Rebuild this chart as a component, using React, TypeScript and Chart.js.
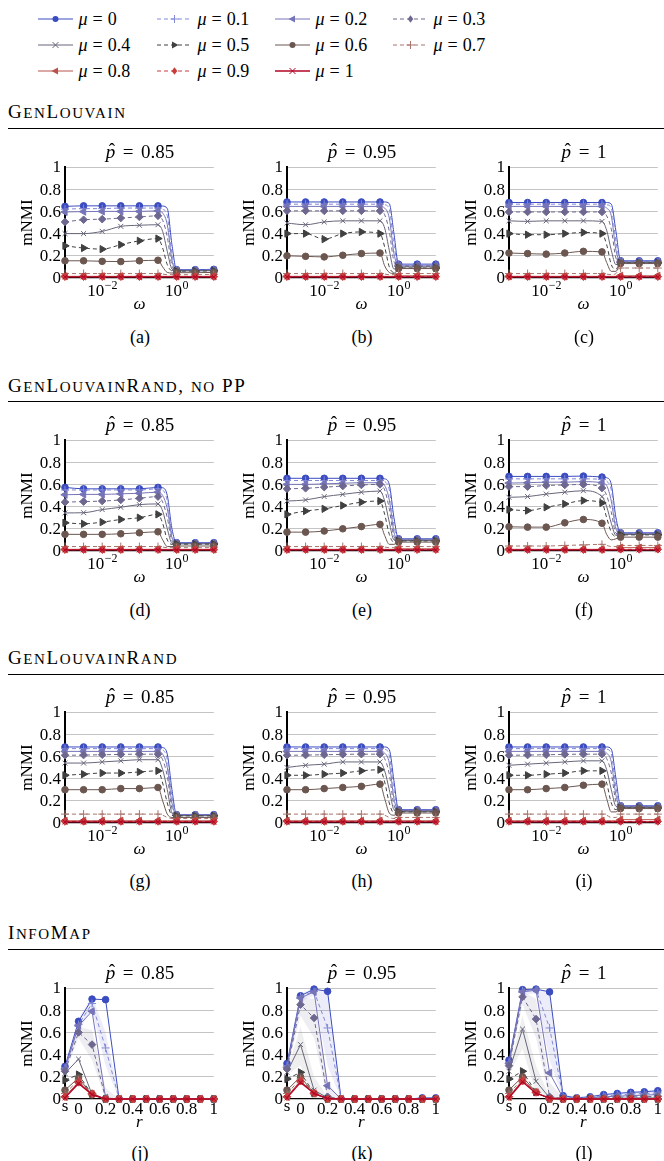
import React, { useEffect, useRef } from "react";
import { Chart, registerables } from "chart.js";

Chart.register(...registerables);

const FONT = "'Liberation Serif', 'DejaVu Serif', serif";
const TICK_PX = 17;
const SUP_PX = 12;

// ---- series styling (one entry per mixing parameter mu) ----
const MU_LABELS = ["0", "0.1", "0.2", "0.3", "0.4", "0.5", "0.6", "0.7", "0.8", "0.9", "1"];
const MU_COLORS = ["#3b4cc0", "#8288d8", "#7674b8", "#6e6890", "#66667a", "#404040", "#6b5650", "#a8746c", "#b8524a", "#c83c3c", "#b40426"];
const MU_DASHED = [false, true, false, true, false, true, false, true, false, true, false];
const MU_MARKERS = ["circle", "plus", "tl", "diamond", "x", "tr", "circle", "plus", "tl", "diamond", "x"];

// ---- x grids ----
const OMEGA = [0.001, 0.00316, 0.01, 0.0316, 0.1, 0.316, 0.422, 0.562, 0.75, 1, 3.16, 10];
const OMEGA_MARKED = [1, 1, 1, 1, 1, 1, 0, 0, 0, 1, 1, 1];
const OMEGA_TICKS = [0.01, 1];
const OMEGA_TICK_EXP = ["\u22122", "0"];
const R_VALUES = [-0.1, 0, 0.1, 0.2, 0.3, 0.4, 0.5, 0.6, 0.7, 0.8, 0.9, 1];
const R_MARKED = [1, 1, 1, 1, 1, 1, 1, 1, 1, 1, 1, 1];
const R_TICKS = [-0.1, 0, 0.2, 0.4, 0.6, 0.8, 1];
const R_TICK_LABELS = ["s", "0", "0.2", "0.4", "0.6", "0.8", "1"];
const Y_TICKS = [0, 0.2, 0.4, 0.6, 0.8, 1];
const Y_TICK_LABELS = ["0", "0.2", "0.4", "0.6", "0.8", "1"];

// ---- GenLouvain ----
const GL_P085 = [
  [0.645, 0.65, 0.65, 0.65, 0.65, 0.65, 0.648, 0.625, 0.3, 0.075, 0.075, 0.078],
  [0.62, 0.625, 0.625, 0.63, 0.63, 0.63, 0.62, 0.56, 0.22, 0.07, 0.07, 0.072],
  [0.595, 0.598, 0.6, 0.6, 0.6, 0.605, 0.585, 0.48, 0.16, 0.068, 0.068, 0.07],
  [0.505, 0.525, 0.53, 0.54, 0.55, 0.56, 0.52, 0.37, 0.11, 0.066, 0.066, 0.068],
  [0.4, 0.4, 0.42, 0.465, 0.475, 0.48, 0.42, 0.24, 0.08, 0.064, 0.064, 0.066],
  [0.29, 0.27, 0.26, 0.3, 0.335, 0.355, 0.27, 0.12, 0.065, 0.062, 0.062, 0.064],
  [0.155, 0.155, 0.15, 0.148, 0.155, 0.16, 0.1, 0.05, 0.045, 0.048, 0.048, 0.05],
  [0.04, 0.04, 0.04, 0.04, 0.04, 0.04, 0.035, 0.03, 0.03, 0.03, 0.03, 0.032],
  [0.015, 0.015, 0.015, 0.015, 0.015, 0.015, 0.015, 0.015, 0.015, 0.015, 0.015, 0.015],
  [0.012, 0.012, 0.012, 0.012, 0.012, 0.012, 0.012, 0.012, 0.012, 0.012, 0.012, 0.012],
  [0.01, 0.01, 0.01, 0.01, 0.01, 0.01, 0.01, 0.01, 0.01, 0.01, 0.01, 0.01],
];
const GL_P095 = [
  [0.685, 0.685, 0.685, 0.685, 0.685, 0.685, 0.685, 0.67, 0.4, 0.125, 0.125, 0.125],
  [0.665, 0.665, 0.665, 0.665, 0.665, 0.665, 0.66, 0.62, 0.3, 0.115, 0.115, 0.115],
  [0.645, 0.645, 0.645, 0.645, 0.645, 0.645, 0.63, 0.54, 0.22, 0.11, 0.11, 0.11],
  [0.605, 0.605, 0.605, 0.605, 0.605, 0.605, 0.57, 0.42, 0.15, 0.105, 0.105, 0.105],
  [0.495, 0.48, 0.505, 0.515, 0.515, 0.515, 0.45, 0.25, 0.08, 0.1, 0.1, 0.1],
  [0.4, 0.4, 0.35, 0.4, 0.415, 0.4, 0.28, 0.1, 0.05, 0.09, 0.09, 0.09],
  [0.2, 0.195, 0.19, 0.205, 0.22, 0.225, 0.11, 0.05, 0.04, 0.085, 0.085, 0.085],
  [0.04, 0.04, 0.04, 0.04, 0.04, 0.04, 0.035, 0.03, 0.03, 0.04, 0.04, 0.04],
  [0.015, 0.015, 0.015, 0.015, 0.015, 0.015, 0.015, 0.015, 0.015, 0.02, 0.02, 0.02],
  [0.012, 0.012, 0.012, 0.012, 0.012, 0.012, 0.012, 0.012, 0.012, 0.012, 0.012, 0.012],
  [0.01, 0.01, 0.01, 0.01, 0.01, 0.01, 0.01, 0.01, 0.01, 0.01, 0.01, 0.01],
];
const GL_P1 = [
  [0.68, 0.68, 0.68, 0.68, 0.68, 0.68, 0.68, 0.665, 0.42, 0.155, 0.155, 0.155],
  [0.665, 0.665, 0.665, 0.665, 0.665, 0.665, 0.66, 0.63, 0.33, 0.148, 0.148, 0.148],
  [0.645, 0.645, 0.645, 0.645, 0.645, 0.645, 0.63, 0.56, 0.25, 0.145, 0.145, 0.145],
  [0.595, 0.595, 0.595, 0.595, 0.595, 0.595, 0.56, 0.44, 0.18, 0.142, 0.142, 0.142],
  [0.515, 0.51, 0.515, 0.515, 0.515, 0.51, 0.43, 0.25, 0.12, 0.14, 0.14, 0.14],
  [0.4, 0.39, 0.39, 0.4, 0.41, 0.4, 0.3, 0.12, 0.08, 0.135, 0.135, 0.135],
  [0.225, 0.22, 0.215, 0.225, 0.24, 0.235, 0.14, 0.06, 0.06, 0.13, 0.13, 0.13],
  [0.04, 0.04, 0.04, 0.04, 0.04, 0.04, 0.035, 0.03, 0.04, 0.09, 0.09, 0.09],
  [0.015, 0.015, 0.015, 0.015, 0.015, 0.015, 0.015, 0.015, 0.015, 0.02, 0.02, 0.02],
  [0.012, 0.012, 0.012, 0.012, 0.012, 0.012, 0.012, 0.012, 0.012, 0.012, 0.012, 0.012],
  [0.01, 0.01, 0.01, 0.01, 0.01, 0.01, 0.01, 0.01, 0.01, 0.01, 0.01, 0.01],
];

// ---- GenLouvainRand without post-processing ----
const GLR_NOPP_P085 = [
  [0.573, 0.56, 0.56, 0.56, 0.56, 0.573, 0.57, 0.5, 0.2, 0.075, 0.075, 0.075],
  [0.55, 0.55, 0.55, 0.55, 0.55, 0.56, 0.55, 0.45, 0.15, 0.07, 0.07, 0.07],
  [0.507, 0.51, 0.51, 0.515, 0.52, 0.53, 0.5, 0.38, 0.12, 0.068, 0.068, 0.068],
  [0.44, 0.445, 0.45, 0.46, 0.475, 0.49, 0.44, 0.3, 0.09, 0.066, 0.066, 0.066],
  [0.343, 0.345, 0.373, 0.394, 0.418, 0.424, 0.36, 0.2, 0.07, 0.064, 0.064, 0.064],
  [0.254, 0.245, 0.26, 0.284, 0.3, 0.33, 0.25, 0.1, 0.06, 0.062, 0.062, 0.062],
  [0.15, 0.15, 0.15, 0.155, 0.164, 0.173, 0.1, 0.04, 0.04, 0.045, 0.045, 0.045],
  [0.04, 0.04, 0.04, 0.04, 0.04, 0.04, 0.035, 0.03, 0.03, 0.03, 0.03, 0.03],
  [0.015, 0.015, 0.015, 0.015, 0.015, 0.015, 0.015, 0.015, 0.015, 0.015, 0.015, 0.015],
  [0.012, 0.012, 0.012, 0.012, 0.012, 0.012, 0.012, 0.012, 0.012, 0.012, 0.012, 0.012],
  [0.01, 0.01, 0.01, 0.01, 0.01, 0.01, 0.01, 0.01, 0.01, 0.01, 0.01, 0.01],
];
const GLR_NOPP_P095 = [
  [0.655, 0.655, 0.655, 0.655, 0.655, 0.655, 0.65, 0.6, 0.3, 0.11, 0.11, 0.11],
  [0.635, 0.635, 0.635, 0.635, 0.635, 0.635, 0.625, 0.55, 0.23, 0.105, 0.105, 0.105],
  [0.6, 0.6, 0.605, 0.61, 0.615, 0.615, 0.59, 0.46, 0.17, 0.1, 0.1, 0.1],
  [0.56, 0.565, 0.575, 0.585, 0.595, 0.6, 0.55, 0.38, 0.13, 0.098, 0.098, 0.098],
  [0.45, 0.46, 0.49, 0.51, 0.53, 0.54, 0.45, 0.26, 0.1, 0.095, 0.095, 0.095],
  [0.33, 0.36, 0.38, 0.41, 0.44, 0.45, 0.33, 0.15, 0.08, 0.09, 0.09, 0.09],
  [0.17, 0.17, 0.18, 0.2, 0.22, 0.24, 0.14, 0.06, 0.06, 0.08, 0.08, 0.08],
  [0.04, 0.04, 0.04, 0.04, 0.04, 0.04, 0.035, 0.03, 0.03, 0.04, 0.04, 0.04],
  [0.015, 0.015, 0.015, 0.015, 0.015, 0.015, 0.015, 0.015, 0.015, 0.02, 0.02, 0.02],
  [0.012, 0.012, 0.012, 0.012, 0.012, 0.012, 0.012, 0.012, 0.012, 0.012, 0.012, 0.012],
  [0.01, 0.01, 0.01, 0.01, 0.01, 0.01, 0.01, 0.01, 0.01, 0.01, 0.01, 0.01],
];
const GLR_NOPP_P1 = [
  [0.672, 0.672, 0.672, 0.672, 0.675, 0.666, 0.66, 0.6, 0.3, 0.164, 0.164, 0.164],
  [0.65, 0.65, 0.65, 0.65, 0.65, 0.645, 0.63, 0.55, 0.25, 0.158, 0.158, 0.158],
  [0.612, 0.615, 0.62, 0.62, 0.625, 0.615, 0.59, 0.45, 0.2, 0.155, 0.155, 0.155],
  [0.58, 0.58, 0.59, 0.595, 0.6, 0.567, 0.5, 0.35, 0.16, 0.152, 0.152, 0.152],
  [0.484, 0.49, 0.513, 0.53, 0.543, 0.49, 0.4, 0.25, 0.14, 0.15, 0.15, 0.15],
  [0.373, 0.364, 0.394, 0.424, 0.454, 0.433, 0.3, 0.17, 0.13, 0.145, 0.145, 0.145],
  [0.218, 0.215, 0.215, 0.254, 0.284, 0.25, 0.15, 0.1, 0.11, 0.125, 0.125, 0.125],
  [0.045, 0.045, 0.045, 0.05, 0.055, 0.06, 0.05, 0.04, 0.04, 0.05, 0.05, 0.05],
  [0.015, 0.015, 0.015, 0.015, 0.015, 0.015, 0.015, 0.015, 0.015, 0.03, 0.03, 0.03],
  [0.012, 0.012, 0.012, 0.012, 0.012, 0.012, 0.012, 0.012, 0.012, 0.015, 0.015, 0.015],
  [0.01, 0.01, 0.01, 0.01, 0.01, 0.01, 0.01, 0.01, 0.01, 0.01, 0.01, 0.01],
];

// ---- GenLouvainRand ----
const GLR_P085 = [
  [0.685, 0.685, 0.685, 0.685, 0.685, 0.685, 0.68, 0.62, 0.3, 0.075, 0.075, 0.075],
  [0.67, 0.67, 0.67, 0.67, 0.67, 0.67, 0.66, 0.57, 0.24, 0.072, 0.072, 0.072],
  [0.645, 0.645, 0.645, 0.645, 0.645, 0.645, 0.62, 0.5, 0.18, 0.07, 0.07, 0.07],
  [0.61, 0.612, 0.615, 0.618, 0.62, 0.62, 0.57, 0.42, 0.13, 0.068, 0.068, 0.068],
  [0.54, 0.54, 0.55, 0.56, 0.57, 0.57, 0.48, 0.3, 0.09, 0.066, 0.066, 0.066],
  [0.43, 0.44, 0.45, 0.45, 0.46, 0.47, 0.36, 0.18, 0.07, 0.064, 0.064, 0.064],
  [0.3, 0.3, 0.3, 0.31, 0.31, 0.32, 0.2, 0.08, 0.05, 0.05, 0.05, 0.05],
  [0.08, 0.08, 0.08, 0.08, 0.08, 0.08, 0.07, 0.05, 0.04, 0.04, 0.04, 0.04],
  [0.02, 0.02, 0.02, 0.02, 0.02, 0.02, 0.02, 0.02, 0.02, 0.02, 0.02, 0.02],
  [0.014, 0.014, 0.014, 0.014, 0.014, 0.014, 0.014, 0.014, 0.014, 0.014, 0.014, 0.014],
  [0.01, 0.01, 0.01, 0.01, 0.01, 0.01, 0.01, 0.01, 0.01, 0.01, 0.01, 0.01],
];
const GLR_P095 = [
  [0.685, 0.685, 0.685, 0.685, 0.685, 0.685, 0.685, 0.66, 0.38, 0.12, 0.12, 0.12],
  [0.67, 0.67, 0.67, 0.67, 0.67, 0.67, 0.665, 0.61, 0.3, 0.115, 0.115, 0.115],
  [0.645, 0.645, 0.645, 0.645, 0.645, 0.645, 0.63, 0.54, 0.22, 0.112, 0.112, 0.112],
  [0.61, 0.612, 0.615, 0.618, 0.62, 0.62, 0.58, 0.44, 0.16, 0.11, 0.11, 0.11],
  [0.5, 0.52, 0.53, 0.55, 0.55, 0.55, 0.47, 0.3, 0.12, 0.105, 0.105, 0.105],
  [0.43, 0.43, 0.44, 0.45, 0.47, 0.48, 0.37, 0.18, 0.09, 0.1, 0.1, 0.1],
  [0.3, 0.3, 0.31, 0.32, 0.33, 0.35, 0.22, 0.09, 0.07, 0.09, 0.09, 0.09],
  [0.08, 0.08, 0.08, 0.08, 0.08, 0.08, 0.07, 0.05, 0.04, 0.05, 0.05, 0.05],
  [0.02, 0.02, 0.02, 0.02, 0.02, 0.02, 0.02, 0.02, 0.02, 0.02, 0.02, 0.02],
  [0.014, 0.014, 0.014, 0.014, 0.014, 0.014, 0.014, 0.014, 0.014, 0.014, 0.014, 0.014],
  [0.01, 0.01, 0.01, 0.01, 0.01, 0.01, 0.01, 0.01, 0.01, 0.01, 0.01, 0.01],
];
const GLR_P1 = [
  [0.685, 0.685, 0.685, 0.685, 0.685, 0.685, 0.685, 0.665, 0.4, 0.155, 0.155, 0.155],
  [0.67, 0.67, 0.67, 0.67, 0.67, 0.67, 0.665, 0.62, 0.32, 0.15, 0.15, 0.15],
  [0.645, 0.645, 0.645, 0.645, 0.645, 0.645, 0.63, 0.55, 0.25, 0.148, 0.148, 0.148],
  [0.61, 0.612, 0.615, 0.618, 0.62, 0.62, 0.58, 0.45, 0.19, 0.145, 0.145, 0.145],
  [0.52, 0.53, 0.54, 0.55, 0.56, 0.56, 0.48, 0.3, 0.15, 0.14, 0.14, 0.14],
  [0.43, 0.43, 0.44, 0.45, 0.47, 0.47, 0.36, 0.18, 0.12, 0.135, 0.135, 0.135],
  [0.3, 0.3, 0.31, 0.32, 0.34, 0.35, 0.22, 0.1, 0.1, 0.13, 0.13, 0.13],
  [0.08, 0.08, 0.08, 0.08, 0.08, 0.08, 0.07, 0.05, 0.05, 0.08, 0.08, 0.08],
  [0.02, 0.02, 0.02, 0.02, 0.02, 0.02, 0.02, 0.02, 0.02, 0.03, 0.03, 0.03],
  [0.014, 0.014, 0.014, 0.014, 0.014, 0.014, 0.014, 0.014, 0.014, 0.014, 0.014, 0.014],
  [0.01, 0.01, 0.01, 0.01, 0.01, 0.01, 0.01, 0.01, 0.01, 0.01, 0.01, 0.01],
];

// ---- InfoMap ----
const IM_P085 = [
  [0.294, 0.7, 0.9, 0.895, 0, 0, 0, 0, 0, 0, 0, 0],
  [0.28, 0.67, 0.86, 0.46, 0, 0, 0, 0, 0, 0, 0, 0],
  [0.27, 0.66, 0.79, 0.01, 0, 0, 0, 0, 0, 0, 0, 0],
  [0.25, 0.6, 0.49, 0.005, 0, 0, 0, 0, 0, 0, 0, 0],
  [0.23, 0.36, 0.04, 0, 0, 0, 0, 0, 0, 0, 0, 0],
  [0.17, 0.22, 0.04, 0, 0, 0, 0, 0, 0, 0, 0, 0],
  [0.08, 0.19, 0.04, 0, 0, 0, 0, 0, 0, 0, 0, 0],
  [0.05, 0.17, 0.04, 0, 0, 0, 0, 0, 0, 0, 0, 0],
  [0.02, 0.155, 0.045, 0, 0, 0, 0, 0, 0, 0, 0, 0],
  [0.02, 0.15, 0.05, 0, 0, 0, 0, 0, 0, 0, 0, 0],
  [0.01, 0.14, 0.04, 0, 0, 0, 0, 0, 0, 0, 0, 0],
];
const IM_P085_BAND_LO = [
  [0.27, 0.62, 0.8, 0.3, 0, 0, 0, 0, 0, 0, 0, 0],
  [0.23, 0.55, 0.35, 0, 0, 0, 0, 0, 0, 0, 0, 0],
];
const IM_P085_BAND_HI = [
  [0.29, 0.72, 0.93, 0.6, 0.02, 0, 0, 0, 0, 0, 0, 0],
  [0.27, 0.65, 0.62, 0.1, 0, 0, 0, 0, 0, 0, 0, 0],
];
const IM_P095 = [
  [0.32, 0.93, 0.99, 0.97, 0, 0, 0, 0, 0, 0, 0.01, 0.01],
  [0.3, 0.92, 0.97, 0.64, 0, 0, 0, 0, 0, 0, 0, 0],
  [0.285, 0.91, 0.965, 0.12, 0, 0, 0, 0, 0, 0, 0, 0],
  [0.27, 0.85, 0.73, 0.02, 0, 0, 0, 0, 0, 0, 0, 0],
  [0.24, 0.49, 0.08, 0.01, 0, 0, 0, 0, 0, 0, 0, 0],
  [0.18, 0.24, 0.05, 0, 0, 0, 0, 0, 0, 0, 0, 0],
  [0.08, 0.2, 0.05, 0, 0, 0, 0, 0, 0, 0, 0, 0],
  [0.05, 0.18, 0.05, 0, 0, 0, 0, 0, 0, 0, 0, 0],
  [0.02, 0.165, 0.05, 0, 0, 0, 0, 0, 0, 0, 0, 0],
  [0.02, 0.16, 0.055, 0, 0, 0, 0, 0, 0, 0, 0, 0],
  [0.01, 0.15, 0.05, 0.005, 0, 0, 0, 0, 0, 0, 0, 0],
];
const IM_P095_BAND_LO = [
  [0.28, 0.88, 0.93, 0.3, 0, 0, 0, 0, 0, 0, 0, 0],
  [0.25, 0.75, 0.55, 0, 0, 0, 0, 0, 0, 0, 0, 0],
  [0.22, 0.3, 0, 0, 0, 0, 0, 0, 0, 0, 0, 0],
];
const IM_P095_BAND_HI = [
  [0.32, 0.95, 1, 0.95, 0.02, 0, 0, 0, 0, 0, 0, 0],
  [0.29, 0.92, 0.9, 0.15, 0, 0, 0, 0, 0, 0, 0, 0],
  [0.26, 0.65, 0.2, 0.02, 0, 0, 0, 0, 0, 0, 0, 0],
];
const IM_P1 = [
  [0.35, 0.985, 0.99, 0.965, 0.03, 0.01, 0.02, 0.04, 0.05, 0.06, 0.065, 0.075],
  [0.33, 0.975, 0.985, 0.64, 0.02, 0.01, 0.015, 0.03, 0.035, 0.045, 0.05, 0.055],
  [0.32, 0.965, 0.98, 0.235, 0.01, 0.005, 0.01, 0.02, 0.025, 0.03, 0.035, 0.04],
  [0.3, 0.92, 0.72, 0.02, 0.005, 0, 0.005, 0.01, 0.015, 0.02, 0.02, 0.025],
  [0.25, 0.63, 0.16, 0.01, 0, 0, 0, 0.005, 0.005, 0.01, 0.01, 0.01],
  [0.18, 0.25, 0.06, 0, 0, 0, 0, 0, 0, 0, 0, 0],
  [0.08, 0.2, 0.06, 0, 0, 0, 0, 0, 0, 0, 0, 0],
  [0.05, 0.18, 0.06, 0, 0, 0, 0, 0, 0, 0, 0, 0],
  [0.02, 0.17, 0.06, 0, 0, 0, 0, 0, 0, 0, 0, 0],
  [0.02, 0.16, 0.06, 0, 0, 0, 0, 0, 0, 0, 0, 0],
  [0.01, 0.155, 0.05, 0.01, 0, 0, 0, 0, 0, 0, 0, 0],
];
const IM_P1_BAND_LO = [
  [0.31, 0.94, 0.95, 0.35, 0, 0, 0, 0.01, 0.02, 0.03, 0.03, 0.03],
  [0.28, 0.85, 0.55, 0, 0, 0, 0, 0, 0, 0, 0, 0],
  [0.23, 0.45, 0.05, 0, 0, 0, 0, 0, 0, 0, 0, 0],
];
const IM_P1_BAND_HI = [
  [0.35, 0.99, 1, 0.95, 0.04, 0.02, 0.03, 0.05, 0.06, 0.07, 0.075, 0.08],
  [0.32, 0.97, 0.9, 0.15, 0.01, 0, 0, 0, 0, 0, 0, 0],
  [0.27, 0.75, 0.3, 0.02, 0, 0, 0, 0, 0, 0, 0, 0],
];
const BAND_COLORS = ["rgba(120,128,210,0.14)", "rgba(120,116,150,0.13)", "rgba(120,120,130,0.12)"];

// ---- page layout ----
const COLS = [65, 287, 509];
const ROW_TOPS = [167, 440, 712, 988];
const AREA_W = 150;
const AREA_H = 111;
const PAD = { left: 52, top: 12, right: 4, bottom: 42 };
const CAPTION_Y = [337, 610, 881, 1153];
const HEADER_Y = [112, 386, 658, 933];
const RULE_Y = [128, 401, 674, 949];
const HEADERS = ["GenLouvain", "GenLouvainRand, no PP", "GenLouvainRand", "InfoMap"];
const P_HATS = ["0.85", "0.95", "1"];

const PANELS = [
  { kind: "omega", rows: GL_P085, caption: "(a)" },
  { kind: "omega", rows: GL_P095, caption: "(b)" },
  { kind: "omega", rows: GL_P1, caption: "(c)" },
  { kind: "omega", rows: GLR_NOPP_P085, caption: "(d)" },
  { kind: "omega", rows: GLR_NOPP_P095, caption: "(e)" },
  { kind: "omega", rows: GLR_NOPP_P1, caption: "(f)" },
  { kind: "omega", rows: GLR_P085, caption: "(g)" },
  { kind: "omega", rows: GLR_P095, caption: "(h)" },
  { kind: "omega", rows: GLR_P1, caption: "(i)" },
  { kind: "r", rows: IM_P085, lo: IM_P085_BAND_LO, hi: IM_P085_BAND_HI, caption: "(j)" },
  { kind: "r", rows: IM_P095, lo: IM_P095_BAND_LO, hi: IM_P095_BAND_HI, caption: "(k)" },
  { kind: "r", rows: IM_P1, lo: IM_P1_BAND_LO, hi: IM_P1_BAND_HI, caption: "(l)" },
];

function markerStyle(kind: string) {
  switch (kind) {
    case "circle": return { pointStyle: "circle", rotation: 0, radius: 3.3 };
    case "plus": return { pointStyle: "cross", rotation: 0, radius: 4 };
    case "tl": return { pointStyle: "triangle", rotation: -90, radius: 4.2 };
    case "tr": return { pointStyle: "triangle", rotation: 90, radius: 4.2 };
    case "diamond": return { pointStyle: "rectRot", rotation: 0, radius: 3.8 };
    default: return { pointStyle: "crossRot", rotation: 0, radius: 3.5 };
  }
}

function buildDatasets(p: any) {
  const xs = p.kind === "omega" ? OMEGA : R_VALUES;
  const marked = p.kind === "omega" ? OMEGA_MARKED : R_MARKED;
  const sets: any[] = p.rows.map((row: number[], i: number) => {
    const m = markerStyle(MU_MARKERS[i]);
    return {
      data: row.map((y, j) => ({ x: xs[j], y })),
      borderColor: MU_COLORS[i],
      backgroundColor: MU_COLORS[i],
      borderWidth: i === 10 ? 1.4 : 1,
      borderDash: MU_DASHED[i] ? [4, 3] : [],
      pointStyle: m.pointStyle,
      rotation: m.rotation,
      pointRotation: m.rotation,
      pointRadius: marked.map((k) => (k ? m.radius : 0)),
      pointBorderWidth: 1,
      pointBackgroundColor: MU_COLORS[i],
      pointBorderColor: MU_COLORS[i],
      cubicInterpolationMode: p.kind === "omega" ? "monotone" : "default",
      tension: 0,
      fill: false,
      clip: false,
      order: 20 - i,
    };
  });
  if (p.lo) {
    p.lo.forEach((lo: number[], b: number) => {
      const hi = p.hi[b];
      sets.push({
        data: lo.map((y, j) => ({ x: xs[j], y })),
        borderWidth: 0, pointRadius: 0, fill: false, order: 50, borderColor: "transparent",
      });
      sets.push({
        data: hi.map((y, j) => ({ x: xs[j], y })),
        borderWidth: 0, pointRadius: 0, fill: "-1", order: 50,
        borderColor: "transparent", backgroundColor: BAND_COLORS[b],
      });
    });
  }
  return sets;
}

function axisTextPlugin(kind: string) {
  return {
    id: "axisText",
    afterDraw(chart: any) {
      const { ctx, chartArea: a, scales } = chart;
      const sx = scales.x, sy = scales.y;
      ctx.save();
      ctx.fillStyle = "#000";
      ctx.font = `${TICK_PX}px ${FONT}`;
      ctx.textAlign = "right";
      ctx.textBaseline = "middle";
      Y_TICKS.forEach((v, i) => ctx.fillText(Y_TICK_LABELS[i], a.left - 4, sy.getPixelForValue(v) + 1));
      ctx.textBaseline = "alphabetic";
      if (kind === "omega") {
        OMEGA_TICKS.forEach((v, i) => {
          ctx.font = `${TICK_PX}px ${FONT}`;
          const bw = ctx.measureText("10").width;
          ctx.font = `${SUP_PX}px ${FONT}`;
          const ew = ctx.measureText(OMEGA_TICK_EXP[i]).width;
          const cx = sx.getPixelForValue(v);
          const left = cx - (bw + ew) / 2;
          ctx.textAlign = "left";
          ctx.font = `${TICK_PX}px ${FONT}`;
          ctx.fillText("10", left, a.bottom + 18);
          ctx.font = `${SUP_PX}px ${FONT}`;
          ctx.fillText(OMEGA_TICK_EXP[i], left + bw + 0.5, a.bottom + 11);
        });
      } else {
        ctx.textAlign = "center";
        ctx.font = `${TICK_PX}px ${FONT}`;
        R_TICKS.forEach((v, i) => {
          const lbl = R_TICK_LABELS[i];
          ctx.fillText(lbl, sx.getPixelForValue(v), a.bottom + (lbl === "s" ? 12 : 15));
        });
      }
      ctx.textAlign = "center";
      ctx.textBaseline = "middle";
      ctx.font = `italic ${TICK_PX}px ${FONT}`;
      ctx.fillText(kind === "omega" ? "\u03c9" : "r", (a.left + a.right) / 2, a.bottom + (kind === "omega" ? 27 : 24));
      ctx.translate(a.left - 37, (a.top + a.bottom) / 2);
      ctx.rotate(-Math.PI / 2);
      ctx.font = `${TICK_PX}px ${FONT}`;
      ctx.fillText("mNMI", 0, 0);
      ctx.restore();
    },
  };
}

function Panel({ p, left, top }: any) {
  const ref = useRef<HTMLCanvasElement>(null);
  const W = PAD.left + AREA_W + PAD.right;
  const H = PAD.top + AREA_H + PAD.bottom;
  useEffect(() => {
    const isOmega = p.kind === "omega";
    const chart = new Chart(ref.current as HTMLCanvasElement, {
      type: "line",
      data: { datasets: buildDatasets(p) },
      options: {
        animation: false,
        responsive: false,
        devicePixelRatio: 1,
        layout: { padding: PAD },
        plugins: { legend: { display: false }, tooltip: { enabled: false }, title: { display: false } },
        scales: {
          x: {
            type: isOmega ? "logarithmic" : "linear",
            min: isOmega ? 0.001 : -0.1,
            max: isOmega ? 10 : 1,
            ticks: { display: false },
            grid: { display: true, drawOnChartArea: false, drawTicks: false },
            border: { display: true, color: "#000", width: 1.2 },
            afterFit: (s: any) => { s.height = 0; },
          },
          y: {
            min: 0,
            max: 1,
            ticks: { display: false, stepSize: 0.2 },
            grid: {
              drawTicks: false,
              lineWidth: 1,
              color: (c: any) => (c.tick && c.tick.value === 0 ? "rgba(0,0,0,0)" : "#c4c4c4"),
            },
            border: { display: true, color: "#000", width: 2 },
            afterFit: (s: any) => { s.width = 0; },
          },
        },
      } as any,
      plugins: [axisTextPlugin(p.kind)],
    });
    return () => chart.destroy();
  }, []);
  return (
    <canvas
      ref={ref}
      width={W}
      height={H}
      style={{ position: "absolute", left: left - PAD.left, top: top - PAD.top, width: W, height: H }}
    />
  );
}

function LegendMarker({ kind, cx, cy, color }: any) {
  if (kind === "circle") return <circle cx={cx} cy={cy} r={3} fill={color} />;
  if (kind === "plus")
    return <path d={`M${cx - 4},${cy}H${cx + 4}M${cx},${cy - 4}V${cy + 4}`} stroke={color} strokeWidth={1} />;
  if (kind === "x")
    return <path d={`M${cx - 3},${cy - 3}L${cx + 3},${cy + 3}M${cx - 3},${cy + 3}L${cx + 3},${cy - 3}`} stroke={color} strokeWidth={1} />;
  if (kind === "tl") return <polygon points={`${cx - 4},${cy} ${cx + 2.5},${cy - 3.6} ${cx + 2.5},${cy + 3.6}`} fill={color} />;
  if (kind === "tr") return <polygon points={`${cx + 4},${cy} ${cx - 2.5},${cy - 3.6} ${cx - 2.5},${cy + 3.6}`} fill={color} />;
  return <polygon points={`${cx},${cy - 3.8} ${cx + 2.8},${cy} ${cx},${cy + 3.8} ${cx - 2.8},${cy}`} fill={color} />;
}

const LEGEND_COL_X = [38, 157, 275, 393];
const LEGEND_ROW_Y = [19, 45, 71];

function Legend() {
  return (
    <svg width={664} height={90} style={{ position: "absolute", left: 0, top: 0 }}>
      {MU_LABELS.map((lbl, i) => {
        const x0 = LEGEND_COL_X[i % 4];
        const y = LEGEND_ROW_Y[Math.floor(i / 4)];
        const c = MU_COLORS[i];
        return (
          <g key={lbl}>
            <line x1={x0} y1={y} x2={x0 + 35} y2={y} stroke={c} strokeWidth={i === 10 ? 1.4 : 1} strokeDasharray={MU_DASHED[i] ? "4 3" : undefined} />
            <LegendMarker kind={MU_MARKERS[i]} cx={x0 + 17.5} cy={y} color={c} />
            <text x={x0 + 40.5} y={y + 6} fontFamily={FONT} fontSize={18} fill="#000">
              <tspan fontStyle="italic">{"\u03bc"}</tspan>
              <tspan dx={5}>=</tspan>
              <tspan dx={5}>{lbl}</tspan>
            </text>
          </g>
        );
      })}
    </svg>
  );
}

function SmallCaps({ text }: any) {
  const parts: any[] = [];
  let i = 0;
  while (i < text.length) {
    const lower = text[i] !== text[i].toUpperCase();
    let j = i;
    while (j < text.length && (text[j] !== text[j].toUpperCase()) === lower) j++;
    const chunk = text.slice(i, j);
    parts.push(
      <span key={i} style={{ fontSize: lower ? 15 : 19 }}>{lower ? chunk.toUpperCase() : chunk}</span>
    );
    i = j;
  }
  return <>{parts}</>;
}

function Title({ cx, cy, value }: any) {
  return (
    <div style={{ position: "absolute", left: cx, top: cy, transform: "translate(-50%, -50%)", font: `19px ${FONT}`, whiteSpace: "nowrap", lineHeight: "22px" }}>
      <span style={{ position: "relative", fontStyle: "italic" }}>
        p
        <span style={{ position: "absolute", left: "0.16em", top: "-0.12em", fontStyle: "normal" }}>{"\u02c6"}</span>
      </span>
      <span style={{ margin: "0 0.4em" }}>=</span>
      {value}
    </div>
  );
}

export default function App() {
  return (
    <div style={{ position: "absolute", left: 0, top: 0, width: 664, height: 1161, overflow: "hidden", background: "#fff", fontFamily: FONT }}>
      <Legend />
      {HEADERS.map((h, r) => (
        <React.Fragment key={h}>
          <div style={{ position: "absolute", left: 8, top: HEADER_Y[r] - 11, lineHeight: "22px", letterSpacing: "1.6px", whiteSpace: "nowrap" }}>
            <SmallCaps text={h} />
          </div>
          <div style={{ position: "absolute", left: 8, top: RULE_Y[r], width: 656, height: 1, background: "#000" }} />
        </React.Fragment>
      ))}
      {PANELS.map((p, k) => {
        const r = Math.floor(k / 3), c = k % 3;
        const left = COLS[c], top = ROW_TOPS[r];
        return (
          <React.Fragment key={p.caption}>
            <Panel p={p} left={left} top={top} />
            <Title cx={left + AREA_W / 2} cy={top - 15} value={P_HATS[c]} />
            <div style={{ position: "absolute", left: left + AREA_W / 2, top: CAPTION_Y[r], transform: "translate(-50%, -50%)", fontSize: 18, lineHeight: "20px" }}>
              {p.caption}
            </div>
          </React.Fragment>
        );
      })}
    </div>
  );
}
